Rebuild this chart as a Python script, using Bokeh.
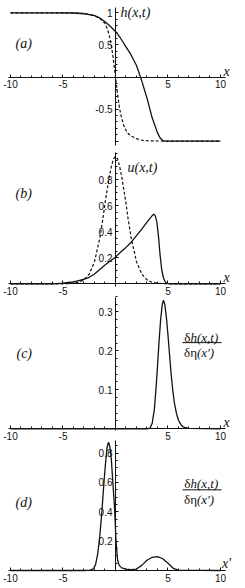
from bokeh.plotting import figure
from bokeh.models import Label, Arrow, FixedTicker, Range1d, LinearAxis
from bokeh.embed import file_html
from bokeh.resources import INLINE

# ---------------- data ----------------
# (a) h(x,t): solid and dashed
XA_S = [-10, -6, -4, -3, -2.5, -2, -1.5, -1, -0.5, 0, 0.5, 1, 1.5, 2, 2.5, 3, 3.5, 4, 4.25, 4.5, 4.7, 6, 10]
HA_S = [1, 1, 0.997, 0.985, 0.97, 0.955, 0.92, 0.86, 0.79, 0.71, 0.6, 0.47, 0.34, 0.18, -0.06, -0.33, -0.64, -0.87, -0.95, -0.99, -1, -1, -1]
XA_D = [-10, -4, -3, -2.5, -2, -1.5, -1.2, -1, -0.8, -0.6, -0.4, -0.2, 0, 0.2, 0.4, 0.6, 0.8, 1, 1.2, 1.5, 2, 2.5, 3, 4, 10]
HA_D = [1, 0.997, 0.99, 0.975, 0.955, 0.91, 0.87, 0.83, 0.76, 0.65, 0.5, 0.27, 0, -0.27, -0.5, -0.65, -0.76, -0.83, -0.88, -0.92, -0.96, -0.985, -0.993, -0.997, -1]

# (b) u(x,t): solid and dashed
XB_S = [-10, -6, -5, -4.5, -4, -3.5, -3, -2.5, -2, -1.5, -1, -0.5, 0, 0.5, 1, 1.5, 2, 2.5, 3, 3.3, 3.5, 3.65, 3.8, 3.95, 4.1, 4.25, 4.4, 4.55, 4.7, 4.85, 5, 5.5, 10]
UB_S = [0, 0, 0.005, 0.01, 0.015, 0.025, 0.035, 0.05, 0.075, 0.11, 0.145, 0.175, 0.205, 0.245, 0.28, 0.32, 0.37, 0.42, 0.475, 0.505, 0.525, 0.535, 0.52, 0.47, 0.36, 0.22, 0.11, 0.05, 0.02, 0.007, 0.002, 0, 0]
XB_D = [-10, -5, -4, -3.5, -3, -2.5, -2, -1.5, -1.2, -1, -0.8, -0.6, -0.4, -0.2, 0, 0.2, 0.4, 0.6, 0.8, 1, 1.2, 1.5, 2, 2.5, 3, 3.5, 4, 5, 10]
UB_D = [0, 0, 0.004, 0.012, 0.03, 0.075, 0.17, 0.35, 0.5, 0.62, 0.72, 0.82, 0.9, 0.96, 0.98, 0.96, 0.9, 0.82, 0.72, 0.62, 0.5, 0.35, 0.17, 0.075, 0.03, 0.012, 0.004, 0, 0]

# (c) response function vs x
XC = [-10, 3, 3.3, 3.5, 3.7, 3.85, 4.0, 4.15, 4.3, 4.45, 4.57, 4.7, 4.85, 5.0, 5.15, 5.3, 5.45, 5.6, 5.8, 6.0, 6.25, 6.5, 7, 10]
DC = [0, 0, 0.002, 0.015, 0.05, 0.1, 0.16, 0.225, 0.28, 0.318, 0.33, 0.318, 0.285, 0.24, 0.19, 0.14, 0.1, 0.068, 0.04, 0.022, 0.01, 0.004, 0.001, 0]

# (d) response function vs x'
XD = [-10, -3, -2.4, -2.1, -1.9, -1.7, -1.5, -1.3, -1.1, -0.95, -0.8, -0.67, -0.55, -0.4, -0.25, -0.1, 0.05, 0.2, 0.35, 0.6, 1.0, 1.5, 2.0, 2.5, 3.0, 3.5, 4.0, 4.5, 5.0, 5.5, 6.0, 10]
DD = [0, 0, 0.003, 0.012, 0.04, 0.11, 0.23, 0.4, 0.6, 0.73, 0.84, 0.875, 0.85, 0.76, 0.6, 0.44, 0.2, 0.07, 0.035, 0.018, 0.01, 0.006, 0.01, 0.035, 0.07, 0.09, 0.095, 0.08, 0.05, 0.015, 0.003, 0]

# ticks
X_MAJOR = [-10, -5, 5, 10]
X_LABELS = {-10: "-10", -5: "-5", 5: "5", 10: "10"}
X_MINOR = list(range(-10, 11))
YA_MAJOR = [-1, -0.5, 0.5, 1]
YA_LABELS = {-1: "", -0.5: "-0.5", 0.5: "0.5", 1: "1"}
YA_MINOR = [round(-1 + 0.1 * i, 2) for i in range(21)]
YB_MAJOR = [0.2, 0.4, 0.6, 0.8]
YB_MINOR = [round(0.05 * i, 2) for i in range(21)]
YC_MAJOR = [0.1, 0.2, 0.3]
YC_MINOR = [round(0.02 * i, 2) for i in range(18)]
YD_MAJOR = [0.2, 0.4, 0.6, 0.8]
YD_MINOR = [round(0.05 * i, 2) for i in range(18)]

SERIF = "Liberation Serif"
SANS = "Liberation Sans"
INK = "#111111"
X_RANGE = (-10.952, 12.381)
X_AXIS_BOUNDS = (-10.19, 10.48)

# each panel gets its own y range spanning the full height of the single frame
p = figure(width=245, height=588, x_range=Range1d(*X_RANGE),
           y_range=Range1d(-7.967, 1.1916),
           x_axis_type=None, y_axis_type=None,
           output_backend="svg", toolbar_location=None,
           min_border_left=0, min_border_right=0, min_border_top=0, min_border_bottom=0)
p.extra_y_ranges = {
    "b": Range1d(-2.3438, 2.1792),
    "c": Range1d(-0.40949, 1.09821),
    "d": Range1d(-0.1227, 3.8855),
}
p.grid.visible = False
p.outline_line_color = None
p.background_fill_color = "white"
p.border_fill_color = "white"


def style_axis(ax):
    ax.axis_line_color = INK
    ax.major_tick_line_color = INK
    ax.minor_tick_line_color = INK
    ax.major_tick_in = 3
    ax.major_tick_out = 0
    ax.minor_tick_in = 2
    ax.minor_tick_out = 0
    ax.major_label_text_font = SANS
    ax.major_label_text_font_size = "10px"
    ax.major_label_text_color = INK


def add_axes(rname, ymajor, yminor, ybounds, ylabels=None):
    xa = LinearAxis(y_range_name=rname, fixed_location=0, bounds=X_AXIS_BOUNDS,
                    ticker=FixedTicker(ticks=X_MAJOR, minor_ticks=X_MINOR),
                    major_label_overrides=X_LABELS, major_label_standoff=3)
    style_axis(xa)
    p.add_layout(xa, "below")
    ya = LinearAxis(y_range_name=rname, fixed_location=0, bounds=ybounds,
                    ticker=FixedTicker(ticks=ymajor, minor_ticks=yminor),
                    major_label_standoff=3)
    if ylabels:
        ya.major_label_overrides = ylabels
    style_axis(ya)
    p.add_layout(ya, "left")


def lab(rname, x, y, text, style="italic", size="14px", align="left", y_offset=0):
    p.add_layout(Label(x=x, y=y, text=text, y_range_name=rname, text_font=SERIF,
                       text_font_style=style, text_font_size=size, text_align=align,
                       text_baseline="middle", y_offset=y_offset, text_color=INK))


def fraction(rname, yn, ybar, yd):
    lab(rname, 7.14, yn, "δ", style="normal", size="13px", align="right")
    lab(rname, 7.14, yn, "h(x,t)", size="13px")
    lab(rname, 7.76, yd, "δη", style="normal", size="13px", align="right")
    lab(rname, 7.76, yd, "(x')", size="13px")
    p.add_layout(Arrow(end=None, x_start=6.38, y_start=ybar, x_end=10.1, y_end=ybar,
                       y_range_name=rname, line_color=INK, line_width=1))


# (a)
add_axes("default", YA_MAJOR, YA_MINOR, (-1.07, 1.08), YA_LABELS)
p.line(XA_S, HA_S, line_color=INK, line_width=1.3)
p.line(XA_D, HA_D, line_color=INK, line_width=1.2, line_dash="3 2")
lab("default", 0.476, 1.01, "h(x,t)")
lab("default", -9.52, 0.517, "(a)")
lab("default", 10.57, 0, "x", align="center", y_offset=6)

# (b)
add_axes("b", YB_MAJOR, YB_MINOR, (-0.02, 1.012))
p.line(XB_S, UB_S, line_color=INK, line_width=1.3, y_range_name="b")
p.line(XB_D, UB_D, line_color=INK, line_width=1.2, line_dash="3 2", y_range_name="b")
lab("b", 1.14, 0.897, "u(x,t)")
lab("b", -9.52, 0.697, "(b)")
lab("b", 10.57, 0, "x", align="center", y_offset=6)

# (c)
add_axes("c", YC_MAJOR, YC_MINOR, (-0.005, 0.337))
p.line(XC, DC, line_color=INK, line_width=1.3, y_range_name="c")
lab("c", -9.43, 0.194, "(c)")
fraction("c", 0.235, 0.221, 0.196)
lab("c", 10.57, 0, "x", align="center", y_offset=6.5)

# (d)
add_axes("d", YD_MAJOR, YD_MINOR, (-0.01, 0.886))
p.line(XD, DD, line_color=INK, line_width=1.3, y_range_name="d")
lab("d", -9.52, 0.466, "(d)")
fraction("d", 0.591, 0.55, 0.484)
lab("d", 10.57, 0, "x'", align="center", y_offset=7)

open("out.html", "w").write(file_html(p, INLINE))
